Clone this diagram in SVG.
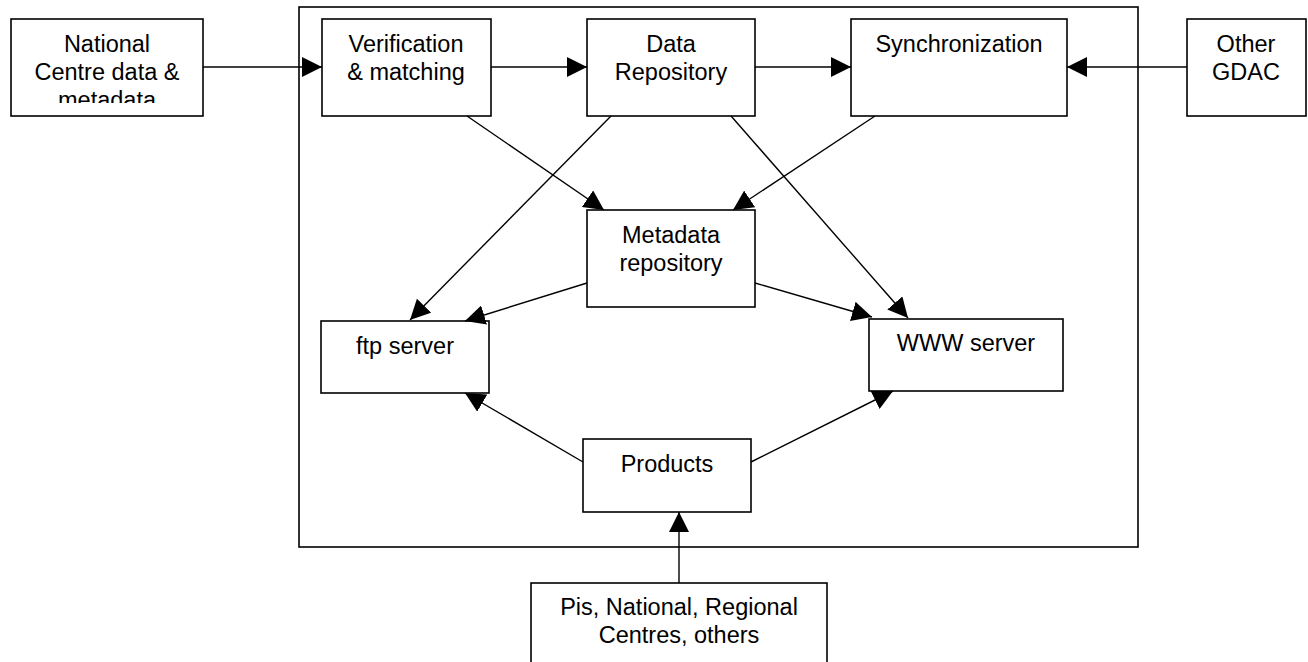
<svg xmlns="http://www.w3.org/2000/svg" width="1308" height="662" viewBox="0 0 1308 662">
<style>
.box{fill:#fff;stroke:#000;stroke-width:1.6}
.frame{fill:none;stroke:#000;stroke-width:1.6}
.t{font-family:"Liberation Sans",Arial,sans-serif;font-size:23.5px;fill:#000;text-anchor:middle}
.c{stroke:#000;stroke-width:1.4;fill:none;marker-end:url(#ah)}
</style>
<defs>
<marker id="ah" markerUnits="userSpaceOnUse" markerWidth="20" markerHeight="20" refX="20" refY="10" orient="auto" viewBox="0 0 20 20">
<path d="M0,0 L20,10 L0,20 z" fill="#000"/>
</marker>
<clipPath id="natclip"><rect x="11" y="19" width="192" height="84"/></clipPath>
</defs>
<rect class="frame" x="299" y="7" width="839" height="540"/>
<g id="national">
<rect class="box" x="11" y="19" width="192" height="97"/>
<g clip-path="url(#natclip)">
<text class="t" x="107" y="52">National</text>
<text class="t" x="107" y="80">Centre data &amp;</text>
<text class="t" x="107" y="108">metadata</text>
</g>
</g>
<g id="verification">
<rect class="box" x="322" y="19" width="169" height="97"/>
<text class="t" x="406" y="52">Verification</text>
<text class="t" x="406" y="80">&amp; matching</text>
</g>
<g id="datarepo">
<rect class="box" x="587" y="19" width="168" height="97"/>
<text class="t" x="671" y="52">Data</text>
<text class="t" x="671" y="80">Repository</text>
</g>
<g id="sync">
<rect class="box" x="851" y="19" width="216" height="97"/>
<text class="t" x="959" y="52">Synchronization</text>
</g>
<g id="gdac">
<rect class="box" x="1187" y="19" width="119" height="97"/>
<text class="t" x="1246" y="52">Other</text>
<text class="t" x="1246" y="80">GDAC</text>
</g>
<g id="metadata">
<rect class="box" x="587" y="210" width="168" height="97"/>
<text class="t" x="671" y="243">Metadata</text>
<text class="t" x="671" y="271">repository</text>
</g>
<g id="ftp">
<rect class="box" x="321" y="321" width="168" height="72"/>
<text class="t" x="405" y="354">ftp server</text>
</g>
<g id="www">
<rect class="box" x="869" y="319" width="194" height="72"/>
<text class="t" x="966" y="351">WWW server</text>
</g>
<g id="products">
<rect class="box" x="583" y="439" width="168" height="73"/>
<text class="t" x="667" y="472">Products</text>
</g>
<g id="pis">
<rect class="box" x="531" y="583" width="296" height="90"/>
<text class="t" x="679" y="615">Pis, National, Regional</text>
<text class="t" x="679" y="643">Centres, others</text>
</g>
<g id="connectors">
<line class="c" x1="203" y1="67" x2="322" y2="67"/>
<line class="c" x1="491" y1="67" x2="587" y2="67"/>
<line class="c" x1="755" y1="67" x2="851" y2="67"/>
<line class="c" x1="1187" y1="67" x2="1067" y2="67"/>
<line class="c" x1="467" y1="116" x2="604" y2="210"/>
<line class="c" x1="875" y1="116" x2="733" y2="210"/>
<line class="c" x1="611" y1="116" x2="410" y2="320"/>
<line class="c" x1="731" y1="116" x2="908" y2="318"/>
<line class="c" x1="587" y1="283" x2="465" y2="321"/>
<line class="c" x1="755" y1="283" x2="872" y2="317"/>
<line class="c" x1="583" y1="462" x2="465" y2="393"/>
<line class="c" x1="751" y1="462" x2="893" y2="391"/>
<line class="c" x1="679" y1="583" x2="679" y2="512"/>
</g>
</svg>
